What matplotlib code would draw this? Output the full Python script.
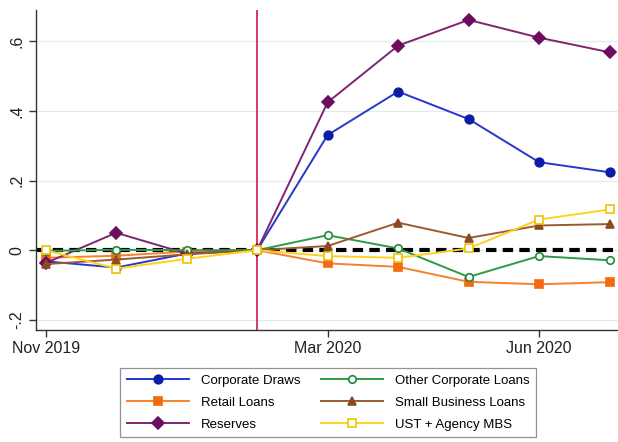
import numpy as np, matplotlib
matplotlib.use('Agg')
import matplotlib.pyplot as plt
plt.rcParams.update({'font.family': ['Liberation Sans', 'DejaVu Sans'], 'font.size': 11})

months = ['Nov 2019', 'Dec 2019', 'Jan 2020', 'Feb 2020', 'Mar 2020',
          'Apr 2020', 'May 2020', 'Jun 2020', 'Jul 2020']
tick_months = ['Nov 2019', 'Mar 2020', 'Jun 2020']
event_month = 'Feb 2020'

corp_draws = [-0.032, -0.050, -0.010, 0.0, 0.331, 0.456, 0.377, 0.253, 0.224]
retail = [-0.022, -0.016, -0.004, 0.0, -0.038, -0.048, -0.091, -0.098, -0.092]
reserves = [-0.037, 0.050, -0.010, 0.0, 0.425, 0.588, 0.662, 0.611, 0.569]
other_corp = [-0.002, 0.001, 0.0, 0.0, 0.043, 0.005, -0.077, -0.017, -0.029]
small_bus = [-0.040, -0.027, -0.012, 0.0, 0.012, 0.079, 0.035, 0.071, 0.075]
ust_mbs = [0.0, -0.053, -0.025, 0.0, -0.017, -0.022, 0.005, 0.088, 0.117]

# name, values, line colour, marker colour, marker, size, filled
series = [
    ('Corporate Draws', corp_draws, '#2438cf', '#0d1ea6', 'o', 6.2, True),
    ('Retail Loans', retail, '#f5822a', '#f26b12', 's', 5.4, True),
    ('Reserves', reserves, '#7f2473', '#6c0d5e', 'D', 6.2, True),
    ('Other Corporate Loans', other_corp, '#2e9a48', '#1f8a3a', 'o', 5.4, False),
    ('Small Business Loans', small_bus, '#9a5b32', '#8c4a22', '^', 6.4, True),
    ('UST + Agency MBS', ust_mbs, '#ffd21a', '#f2c200', 's', 5.4, False),
]

x = np.arange(len(months))
fig = plt.figure(figsize=(6.18, 4.42), dpi=100, facecolor='white')
ax = fig.add_axes([0.058, 0.253, 0.942, 0.724])

ax.axhline(0, color='black', lw=3, ls=(0, (2.5, 1.5)), zorder=1.5)
ax.axvline(months.index(event_month), color='#d43a68', lw=1.4, zorder=1.4)

handles = []
for name, vals, lc, mc, mk, ms, filled in series:
    h, = ax.plot(x, vals, color=lc, lw=1.4, marker=mk, ms=ms,
                 mfc=mc if filled else 'white', mec=mc, mew=1.2,
                 label=name, zorder=2)
    handles.append(h)

ax.set_xlim(-0.14, len(months) - 1 + 0.12)
ax.set_ylim(-0.23, 0.69)
ax.set_yticks([-0.2, 0, 0.2, 0.4, 0.6])
ax.set_yticklabels(['-.2', '0', '.2', '.4', '.6'], rotation=90, va='center')
ax.set_xticks([months.index(m) for m in tick_months])
ax.set_xticklabels(tick_months)
ax.grid(axis='y', color='#e3ecec', lw=0.9)
ax.set_axisbelow(True)
for s in ['top', 'right']:
    ax.spines[s].set_visible(False)
for s in ['left', 'bottom']:
    ax.spines[s].set_color('#333333')
    ax.spines[s].set_linewidth(1.0)
ax.tick_params(direction='out', length=5, width=1, color='#333333',
               labelsize=11.5, labelcolor='#222222', pad=3)

leg = fig.legend(handles=handles, loc='upper center', ncol=2,
                 bbox_to_anchor=(0.531, 0.183), fontsize=9.5,
                 handlelength=4.7, columnspacing=1.6, handletextpad=0.9,
                 labelspacing=0.75, frameon=True, fancybox=False,
                 edgecolor='#777777', borderpad=0.5)
leg.get_frame().set_linewidth(0.9)

fig.savefig('out.png', dpi=100, facecolor='white')
